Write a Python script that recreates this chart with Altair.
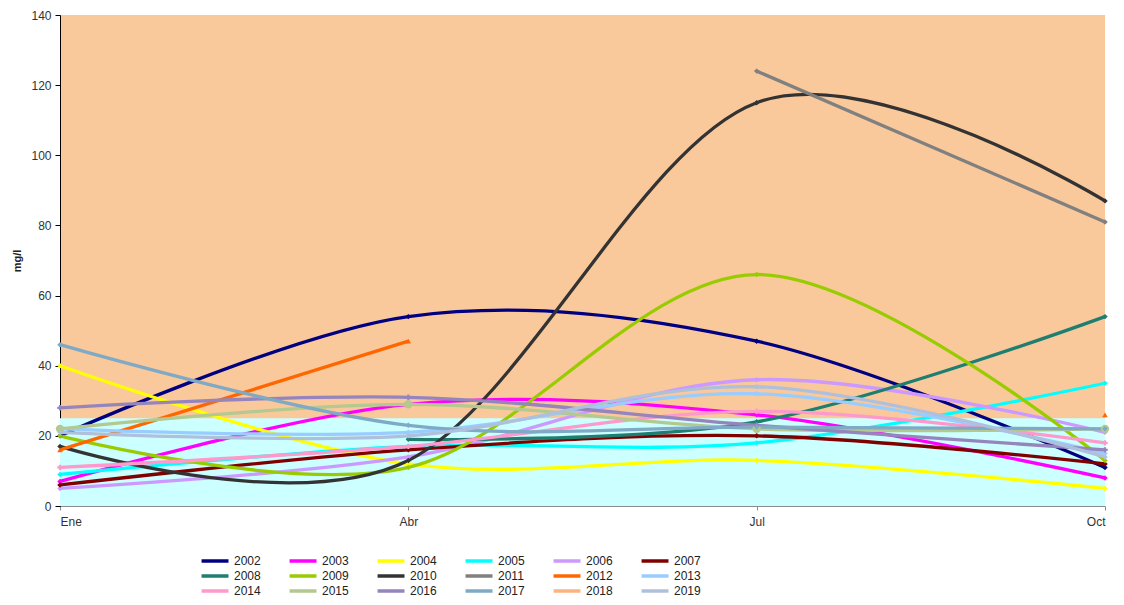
import altair as alt
import pandas as pd

months = ["Ene", "Abr", "Jul", "Oct"]
years = ["2002", "2003", "2004", "2005", "2006", "2007", "2008", "2009", "2010",
         "2011", "2012", "2013", "2014", "2015", "2016", "2017", "2018", "2019"]

v2002 = [20, 54, 47, 11]
v2003 = [7, 29, 26, 8]
v2004 = [40, 12, 13, 5]
v2005 = [9, 17, 18, 35]
v2006 = [5, 14, 36, 21]
v2007 = [6, 16, 20, 12]
v2008 = [None, 19, 24, 54]
v2009 = [20, 11, 66, 13]
v2010 = [17, 13, 115, 87]
v2011 = [None, None, 124, 81]
v2012 = [16, 47, None, 26]
v2013 = [22, 21, 32, 15]
v2014 = [11, 17, 27, 18]
v2015 = [22, 29, 22, 22]
v2016 = [28, 31, 23, 16]
v2017 = [46, 23, 22.5, 22]
v2018 = [None, None, None, None]
v2019 = [21, 20, 34, 14]

series = [v2002, v2003, v2004, v2005, v2006, v2007, v2008, v2009, v2010,
          v2011, v2012, v2013, v2014, v2015, v2016, v2017, v2018, v2019]

colors = ["#000080", "#FF00FF", "#FFFF00", "#00FFFF", "#CC99FF", "#800000",
          "#1E7F70", "#99CC00", "#333333", "#808080", "#FF6600", "#99CCFF",
          "#FF99CC", "#B3C98F", "#9585BC", "#7FA9C4", "#F8B483", "#AFC0DC"]
shapes = ["diamond", "diamond", "diamond", "diamond", "diamond", "diamond",
          "diamond", "diamond", "diamond", "diamond", "triangle-up", "diamond",
          "cross", "circle", "cross", "diamond", "diamond", "diamond"]

# limit bands (mg/l)
band_lo = [0]
band_hi = [25]

rows = []
for yr, vals, shp in zip(years, series, shapes):
    seg = 0
    for i, v in enumerate(vals):
        if v is None:
            seg += 1
            continue
        rows.append({"year": yr, "m": i, "month": months[i], "value": v,
                     "seg": f"{yr}-{seg}", "mk": shp,
                     "msize": 70 if shp == "circle" else 30})
df = pd.DataFrame(rows)

band_df = pd.DataFrame({"x0": [0], "x1": [len(months) - 1],
                        "lo": band_lo, "hi": band_hi})

label_expr = "[" + ",".join(f"'{m}'" for m in months) + "][datum.value]"

xscale = alt.Scale(domain=[0, len(months) - 1], nice=False, zero=False)
yscale = alt.Scale(domain=[0, 140], nice=False)

x_enc = alt.X("m:Q", scale=xscale,
              axis=alt.Axis(values=list(range(len(months))), labelExpr=label_expr,
                            title=None, grid=False, domainColor="#8a8a8a",
                            tickColor="#8a8a8a", tickSize=4, labelPadding=6))
y_enc = alt.Y("value:Q", scale=yscale,
              axis=alt.Axis(values=list(range(0, 141, 20)), title="mg/l",
                            grid=False, domainColor="#000000", tickColor="#000000",
                            tickSize=5, labelPadding=4, titlePadding=8,
                            titleFontWeight="bold", titleFontSize=11))

color_scale = alt.Scale(domain=years, range=colors)

band = alt.Chart(band_df).mark_rect(color="#CCFFFF").encode(
    x=alt.X("x0:Q", scale=xscale), x2="x1:Q",
    y=alt.Y("lo:Q", scale=yscale), y2="hi:Q")

legend = alt.Legend(title=None, orient="none", legendX=159, legendY=540,
                    direction="horizontal", columns=6,
                    symbolType="M-6.7,0H1", symbolSize=49,
                    symbolStrokeWidth=3.5, symbolFillColor="transparent",
                    labelFontSize=12, labelColor="#222222",
                    labelOffset=3, columnPadding=21, rowPadding=1)

lines = alt.Chart(df).mark_line(interpolate="cardinal", strokeWidth=3.3).encode(
    x=x_enc, y=y_enc,
    color=alt.Color("year:N", scale=color_scale, legend=legend),
    detail="seg:N")

points = alt.Chart(df).mark_point(filled=True, opacity=1).encode(
    x=x_enc, y=y_enc,
    color=alt.Color("year:N", scale=color_scale, legend=legend),
    shape=alt.Shape("mk:N", scale=None, legend=None),
    size=alt.Size("msize:Q", scale=None, legend=None))

chart = alt.layer(band, lines, points).properties(
    width=1045, height=491,
    padding={"left": 52, "top": 7, "right": 11, "bottom": 91},
    autosize=alt.AutoSizeParams(type="none"),
).configure_view(
    fill="#FAC99B", stroke=None
).configure_axis(
    labelFont="Liberation Sans", titleFont="Liberation Sans",
    labelFontSize=12, labelColor="#333333", titleColor="#222222"
).configure_legend(
    labelFont="Liberation Sans"
)

chart.save("out.html", embed_options={"renderer": "svg", "actions": False})
